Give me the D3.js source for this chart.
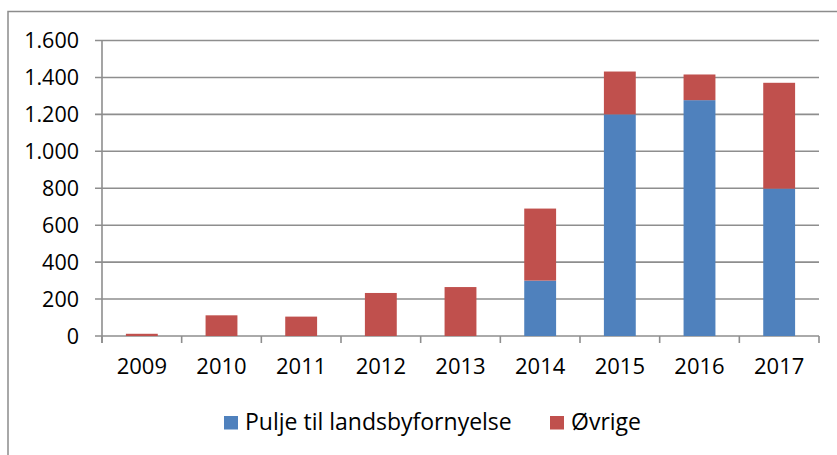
<!DOCTYPE html>
<html>
<head>
<meta charset="utf-8">
<script src="https://cdn.jsdelivr.net/npm/d3@7"></script>
<style>
  body { margin: 0; background: #fff; }
  svg text { font-family: "Open Sans", Lato, sans-serif; fill: #000; }
</style>
</head>
<body>
<div class="chartDiv"></div>
<script>
(function(){
  // data
  var years    = ["2009", "2010", "2011", "2012", "2013", "2014", "2015", "2016", "2017"];
  var pulje    = [0, 0, 0, 0, 0, 300, 1200, 1277, 798];
  var ovrige   = [12, 112, 105, 233, 265, 390, 232, 139, 573];
  var seriesNames  = ["Pulje til landsbyfornyelse", "Øvrige"];
  var seriesColors = ["#4F81BD", "#C0504D"];
  var yTicks   = [0, 200, 400, 600, 800, 1000, 1200, 1400, 1600];

  var width  = 837,
      height = 455,
      plot   = {left: 102, right: 819, top: 40.5, bottom: 336};

  var svg = d3.select(".chartDiv").append("svg")
      .attr("width", width)
      .attr("height", height);

  // outer frame, cut off at right and bottom like the original
  svg.append("rect")
      .attr("x", 8).attr("y", 11.5)
      .attr("width", width).attr("height", height)
      .attr("fill", "none").attr("stroke", "#8c8c8c").attr("stroke-width", 1.5);

  var x = d3.scaleBand().domain(years).range([plot.left, plot.right]).paddingInner(0.6).paddingOuter(0.3);
  var xEdge = d3.scaleLinear().domain([0, years.length]).range([plot.left, plot.right]);
  var y = d3.scaleLinear().domain([0, 1600]).range([plot.bottom, plot.top]);

  var fmt = function(v){ return d3.format(",")(v).replace(/,/g, "."); };

  // gridlines
  svg.append("g").selectAll("line").data(yTicks).enter().append("line")
      .attr("x1", plot.left - 7).attr("x2", plot.right)
      .attr("y1", function(d){ return y(d); }).attr("y2", function(d){ return y(d); })
      .attr("stroke", "#8e8e8e").attr("stroke-width", 1.6);

  // y labels
  svg.append("g").selectAll("text").data(yTicks).enter().append("text")
      .attr("x", 79).attr("y", function(d){ return y(d); })
      .attr("dy", "0.36em").attr("text-anchor", "end")
      .attr("font-size", "21.5px")
      .text(fmt);

  // y axis line
  svg.append("line")
      .attr("x1", plot.left).attr("x2", plot.left)
      .attr("y1", plot.top).attr("y2", plot.bottom + 7)
      .attr("stroke", "#8e8e8e").attr("stroke-width", 1.6);

  // x ticks at category edges
  svg.append("g").selectAll("line").data(d3.range(years.length + 1)).enter().append("line")
      .attr("x1", function(d){ return xEdge(d); }).attr("x2", function(d){ return xEdge(d); })
      .attr("y1", plot.bottom).attr("y2", plot.bottom + 7)
      .attr("stroke", "#8e8e8e").attr("stroke-width", 1.6);

  // stacked bars
  var rows = years.map(function(yr, i){ return {year: yr, pulje: pulje[i], ovrige: ovrige[i]}; });
  var stack = d3.stack().keys(["pulje", "ovrige"])(rows);

  svg.append("g").selectAll("g").data(stack).enter().append("g")
      .attr("fill", function(d, i){ return seriesColors[i]; })
    .selectAll("rect").data(function(d){ return d; }).enter().append("rect")
      .attr("x", function(d){ return x(d.data.year); })
      .attr("width", x.bandwidth())
      .attr("y", function(d){ return y(d[1]); })
      .attr("height", function(d){ return y(d[0]) - y(d[1]); });

  // x labels
  svg.append("g").selectAll("text").data(years).enter().append("text")
      .attr("x", function(d){ return x(d) + x.bandwidth() / 2; })
      .attr("y", 374)
      .attr("text-anchor", "middle")
      .attr("font-size", "22px")
      .text(function(d){ return d; });

  // legend
  var legendX = [224, 550];
  var legend = svg.append("g").selectAll("g").data(seriesNames).enter().append("g")
      .attr("transform", function(d, i){ return "translate(" + legendX[i] + ",0)"; });
  legend.append("rect")
      .attr("x", 0).attr("y", 416).attr("width", 14).attr("height", 13.5)
      .attr("fill", function(d, i){ return seriesColors[i]; });
  legend.append("text")
      .attr("x", 21).attr("y", 429.5)
      .attr("font-size", "23px")
      .text(function(d){ return d; });
})()
</script>
</body>
</html>
